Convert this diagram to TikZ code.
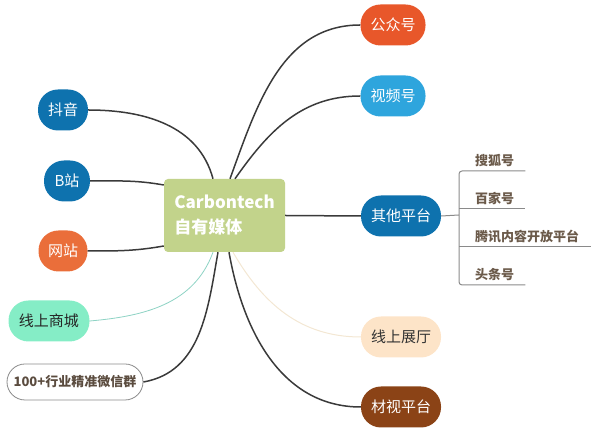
\documentclass[tikz,border=0pt]{standalone}
\usepackage{fontspec}
\setmainfont{Noto Sans CJK SC}
\usepackage{tikz}
\definecolor{cBlue}{HTML}{0E72AE}
\definecolor{cSky}{HTML}{2EA5DD}
\definecolor{cOrange}{HTML}{E8572A}
\definecolor{cOrangeB}{HTML}{EA6E3A}
\definecolor{cBrown}{HTML}{8B4316}
\definecolor{cMint}{HTML}{85EDC6}
\definecolor{cPeach}{HTML}{FDE4C8}
\definecolor{cGreen}{HTML}{C2D38B}
\definecolor{cLink}{HTML}{3A3A3A}
\definecolor{cTeal}{HTML}{8ED3C4}
\definecolor{cSand}{HTML}{F3E7D3}
\definecolor{cSub}{HTML}{6B5A4A}
\definecolor{cGrayLine}{HTML}{8A8A8A}

\begin{document}
\begin{tikzpicture}
  [x=1pt,y=1pt,
  pill/.style={rounded corners=20pt,minimum height=41pt,inner sep=0pt,
    text=white,font=\fontsize{15}{15}\selectfont},
  link/.style={draw=cLink,line width=1.5pt},
  branch/.style={draw=cGrayLine,line width=1pt,rounded corners=3pt},
  sub/.style={anchor=south west,inner xsep=0pt,inner ysep=4pt,align=left,
    text=cSub,font=\bfseries\fontsize{13}{13}\selectfont}]
  \useasboundingbox (0,0) rectangle (600,430);
  % nút trung tâm
  \node[fill=cGreen,rounded corners=4pt,minimum width=121pt,minimum height=73pt,
    text=white,align=left,font=\bfseries\fontsize{17}{25}\selectfont]
    (cb) at (224.5,214.5) {Carbontech\\自有媒体};
  % các nhánh
  \foreach \n/\x/\y/\w/\c/\t in {gzh/393/405/65/cOrange/公众号,
    sph/393/334/65/cSky/视频号,qt/401/214/80/cBlue/其他平台,
    sspt/401/23/80/cBrown/材视平台,dy/63/320/50/cBlue/抖音,
    bz/67/249/46/cBlue/B站,wz/63/179/49/cOrangeB/网站}
  \node[pill,fill=\c,minimum width=\w] (\n) at (\x,\y) {\t};
  \node[pill,fill=cPeach,text=black!80,minimum width=80pt] (zt) at (401,93) {线上展厅};
  \node[pill,fill=cMint,text=black!85,minimum width=81pt] (sc) at (49,109) {线上商城};
  \node[draw=cGrayLine,line width=.8pt,rounded corners=18pt,minimum width=136pt,
    minimum height=36pt,inner sep=0pt,text=cSub!85!black,
    font=\bfseries\fontsize{13}{13}\selectfont] (wx) at (75,48) {100+行业精准微信群};
  % đường nối
  \draw[link] ([xshift=5.5]cb.north) to[out=70,in=180] (gzh.west);
  \draw[link] ([xshift=10.5]cb.north) to[out=55,in=180] (sph.west);
  \draw[link] (cb.east) -- (qt.west);
  \draw[draw=cSand,line width=1pt] ([xshift=8.5]cb.south) to[out=-60,in=180] (zt.west);
  \draw[link] ([xshift=4.5]cb.south) to[out=-80,in=180] (sspt.west);
  \draw[link] (dy.east) to[out=0,in=105] ([xshift=-11.5]cb.north);
  \draw[link] (bz.east) to[out=0,in=170] ([yshift=30.5]cb.west);
  \draw[link] (wz.east) to[out=0,in=190] ([yshift=-30.5]cb.west);
  \draw[draw=cTeal,line width=.8pt] (sc.east) to[out=5,in=250] ([xshift=-11.5]cb.south);
  \draw[link] (wx.east) to[out=10,in=260] ([xshift=-6.5]cb.south);
  % nhánh con của "其他平台"
  \coordinate (br) at (459,215);
  \node[sub,text width=50pt] (sh) at (475,259) {搜狐号};
  \node[sub,text width=50pt] (bj) at (475,221) {百家号};
  \node[sub,text width=116pt] (tx) at (475,183) {腾讯内容开放平台};
  \node[sub,text width=50pt] (tt) at (475,145) {头条号};
  \draw[branch] (qt.east) -- (br);
  \draw[branch] (sh.south east) -- (sh.south -| br) -- (tt.south -| br) -- (tt.south east);
  \draw[branch] (br |- bj.south) -- (bj.south east);
  \draw[branch] (br |- tx.south) -- (tx.south east);
\end{tikzpicture}
\end{document}
